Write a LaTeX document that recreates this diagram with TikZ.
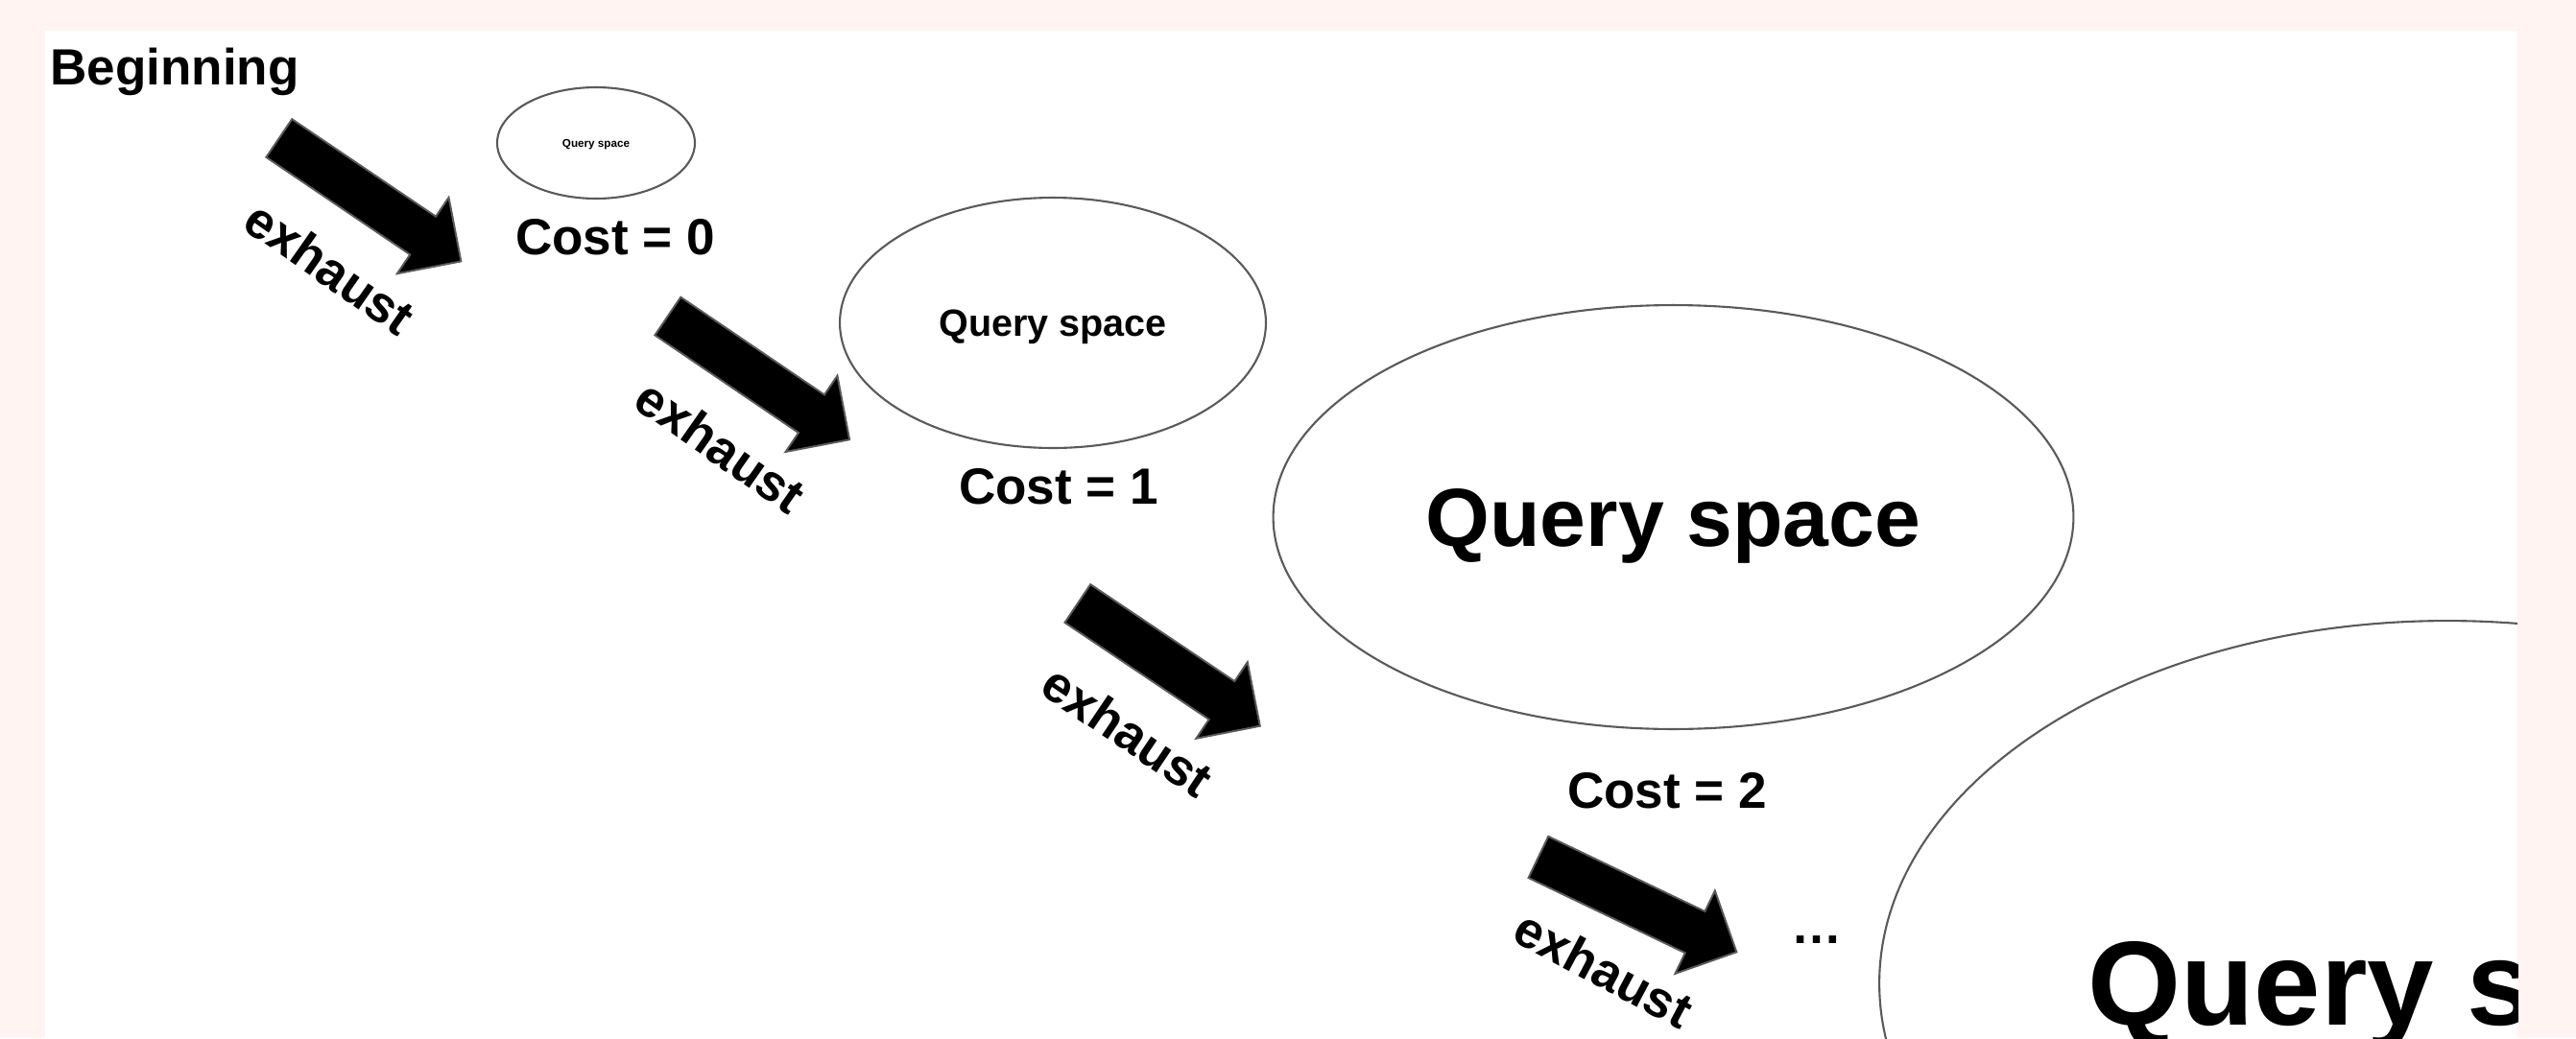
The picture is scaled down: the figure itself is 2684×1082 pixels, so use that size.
\documentclass[tikz,border=0pt]{standalone}
\usepackage{fontspec}
\setmainfont{Liberation Sans}
\usepackage{tikz}
\usetikzlibrary{shapes,arrows}

\definecolor{bgpink}{RGB}{255,244,241}
\definecolor{rimgray}{RGB}{90,90,90}

\begin{document}
\begin{tikzpicture}[x=0.02cm, y=-0.02cm,
  space/.style={ellipse, draw=rimgray, line width=1.2pt, inner sep=0pt, text depth=0pt},
  push/.style={single arrow, fill=black, draw=rimgray, line width=1.1pt, inner xsep=0pt, inner ysep=0.46cm,
    minimum height=4.58cm, single arrow head extend=0.48cm, anchor=tail},
  big/.style={font=\fontsize{30.2}{36}\selectfont\bfseries}]

\useasboundingbox (0,0) rectangle (2684,1082);
\fill[bgpink] (0,0) rectangle (2684,1082);
\fill[white] (47,32) rectangle (2623,1082);

\node[big, anchor=base west, inner sep=0pt] (start) at (52,88) {Beginning};

\node[space, minimum width=4.12cm, minimum height=2.32cm, font=\fontsize{6.65}{8}\selectfont\bfseries] (q0) at (621,149) {Query space};
\node[big, anchor=base] (c0) at (641,265) {Cost = 0};

\node[space, minimum width=8.88cm, minimum height=5.22cm, font=\fontsize{22.5}{27}\selectfont\bfseries] (q1) at (1097,336.5) {Query space};
\node[big, anchor=base] (c1) at (1103,525) {Cost = 1};

\node[space, minimum width=16.68cm, minimum height=8.84cm, font=\fontsize{48.9}{58}\selectfont\bfseries] (q2) at (1743.5,539) {Query space};
\node[big, anchor=base] (c2) at (1737,842) {Cost = 2};

\begin{scope}
\clip (47,32) rectangle (2623,1082);
\node[space, minimum width=23.68cm, minimum height=15.12cm, font=\fontsize{71}{85}\selectfont\bfseries] (q3) at (2550,1025) {Query space};
\end{scope}

\node[big, anchor=base] (more) at (1893,983) {…};

\node[push, rotate=-34.1] (a1) at (290,143.5) {};
\node[push, rotate=-34.2] (a2) at (695,329) {};
\node[push, rotate=-33.9] (a3) at (1122,628.5) {};
\node[push, rotate=-25.6] (a4) at (1602,893) {};

\node[big, rotate=-35] (x1) at (344,279) {exhaust};
\node[big, rotate=-35] (x2) at (751,465) {exhaust};
\node[big, rotate=-34] (x3) at (1175,762) {exhaust};
\node[big, rotate=-28] (x4) at (1671,1010) {exhaust};

\end{tikzpicture}
\end{document}
